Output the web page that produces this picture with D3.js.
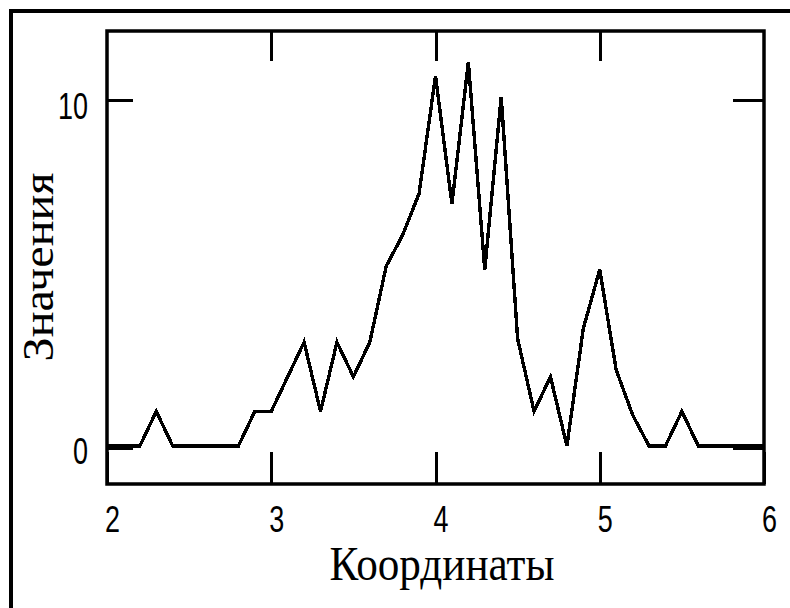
<!DOCTYPE html>
<html>
<head>
<meta charset="utf-8">
<script src="https://cdn.jsdelivr.net/npm/d3@7"></script>
<style>
  html, body { margin: 0; padding: 0; background: #fff; }
  svg { display: block; }
</style>
</head>
<body>
<svg id="chart" width="790" height="608"></svg>
<script>
// ---- data ----
const coords = [2.0,2.1,2.2,2.3,2.4,2.5,2.6,2.7,2.8,2.9,
                3.0,3.1,3.2,3.3,3.4,3.5,3.6,3.7,3.8,3.9,
                4.0,4.1,4.2,4.3,4.4,4.5,4.6,4.7,4.8,4.9,
                5.0,5.1,5.2,5.3,5.4,5.5,5.6,5.7,5.8,5.9,
                6.0];
const values = [0,0,0,1,0,0,0,0,0,1,
                1,2,3,1,3,2,3,5.2,6.1,7.3,
                10.7,7.0,11.1,5.1,10.1,3.1,1,2,0,3.4,
                5.1,2.2,0.9,0,0,1,0,0,0,0,
                0];
const xTicks = [2,3,4,5,6];
const xTopTicks = [3,4,5];
const yTicks = [0,10];
const xTitle = "Координаты";
const yTitle = "Значения";

// ---- layout ----
const svg = d3.select("#chart");
const pL = 107, pR = 764, pT = 31, pB = 484;

const x = d3.scaleLinear().domain([2, 6]).range([pL, pR]);
const y = d3.scaleLinear().domain([-1.1, 12]).range([pB, pT]);

// outer frame (extends past the right/bottom edges)
svg.append("rect")
  .attr("x", 11).attr("y", 11)
  .attr("width", 820).attr("height", 640)
  .attr("fill", "none").attr("stroke", "#000").attr("stroke-width", 4);

// data line
const line = d3.line()
  .x((d, i) => x(coords[i]))
  .y(d => y(d));

svg.append("path")
  .datum(values)
  .attr("d", line)
  .attr("fill", "none")
  .attr("stroke", "#000")
  .attr("stroke-width", 3.4)
  .attr("stroke-linejoin", "miter")
  .attr("shape-rendering", "crispEdges");

// plot frame
svg.append("rect")
  .attr("x", pL).attr("y", pT)
  .attr("width", pR - pL).attr("height", pB - pT)
  .attr("fill", "none").attr("stroke", "#000").attr("stroke-width", 3.5);

const labelFont = "'Liberation Sans', 'DejaVu Sans', sans-serif";

function styleAxis(g, w) {
  g.select(".domain").remove();
  g.selectAll(".tick line").attr("stroke", "#000").attr("stroke-width", w)
    .attr("shape-rendering", "crispEdges");
  g.selectAll(".tick text")
    .attr("fill", "#000")
    .style("font-family", labelFont)
    .style("font-size", "36px");
}

// bottom axis
const gB = svg.append("g").attr("transform", `translate(0,${pB})`)
  .call(d3.axisBottom(x).tickValues(xTicks).tickSize(-32).tickPadding(0).tickFormat(d3.format("d")));
styleAxis(gB, 3);
gB.selectAll(".tick text")
  .attr("x", 5).attr("y", 48).attr("dy", 0)
  .attr("textLength", 15).attr("lengthAdjust", "spacingAndGlyphs");

// top axis
const gT = svg.append("g").attr("transform", `translate(0,${pT})`)
  .call(d3.axisTop(x).tickValues(xTopTicks).tickSize(-30).tickFormat(""));
styleAxis(gT, 3);

// left axis
const gL = svg.append("g").attr("transform", `translate(${pL},0)`)
  .call(d3.axisLeft(y).tickValues(yTicks).tickSize(-26).tickPadding(19).tickFormat(d3.format("d")));
styleAxis(gL, 3);
gL.selectAll(".tick line").attr("transform", d => d === 0 ? "translate(0,2)" : null);
gL.selectAll(".tick text")
  .attr("dy", 0).attr("y", 18)
  .attr("textLength", d => String(d).length * 15)
  .attr("lengthAdjust", "spacingAndGlyphs");

// right axis
const gR = svg.append("g").attr("transform", `translate(${pR},0)`)
  .call(d3.axisRight(y).tickValues(yTicks).tickSize(-31).tickFormat(""));
styleAxis(gR, 3);
gR.selectAll(".tick line").attr("transform", d => d === 0 ? "translate(0,2)" : null);

// axis titles
svg.append("text")
  .attr("x", 442).attr("y", 580)
  .attr("text-anchor", "middle")
  .attr("textLength", 225).attr("lengthAdjust", "spacingAndGlyphs")
  .style("font-family", "'Liberation Serif', 'DejaVu Serif', serif")
  .style("font-size", "48px")
  .attr("fill", "#000")
  .text(xTitle);

svg.append("text")
  .attr("transform", "translate(53,267) rotate(-90)")
  .attr("text-anchor", "middle")
  .attr("textLength", 189).attr("lengthAdjust", "spacingAndGlyphs")
  .style("font-family", "'Liberation Serif', 'DejaVu Serif', serif")
  .style("font-size", "44px")
  .attr("fill", "#000")
  .text(yTitle);
</script>
</body>
</html>
